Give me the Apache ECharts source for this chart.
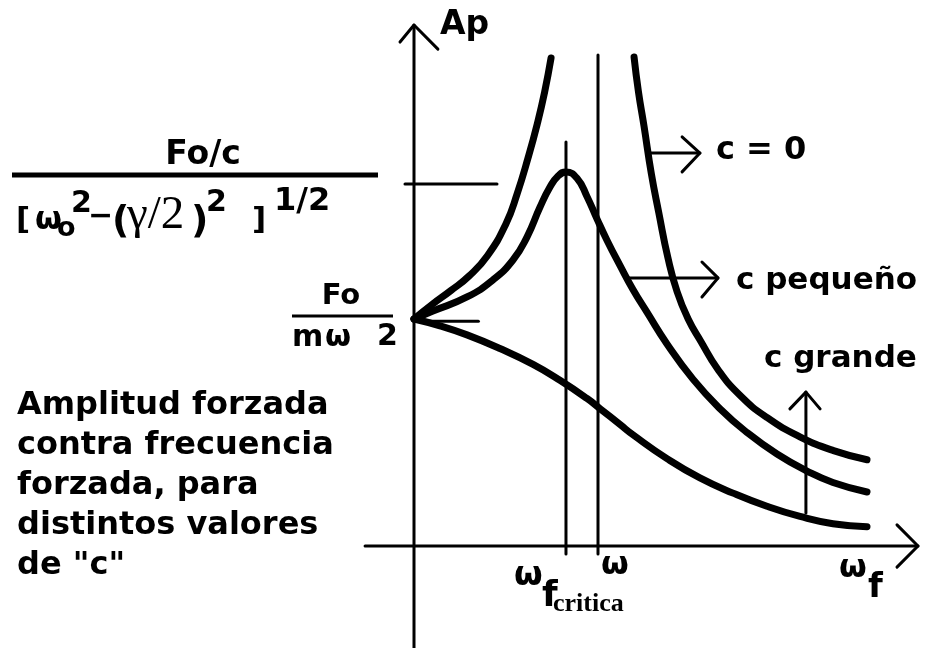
<!DOCTYPE html>
<html>
<head>
<meta charset="utf-8">
<script src="https://cdn.jsdelivr.net/npm/echarts@6/dist/echarts.min.js"></script>
<style>
  html, body { margin: 0; padding: 0; background: #fff; }
  #chart { width: 925px; height: 648px; }
</style>
</head>
<body>
<div id="chart"></div>
<script>
// Forced amplitude Ap against driving frequency ωf.
// Units: ωf in multiples of ω0, Ap in multiples of Fo/(mω²).

// c = 0: branch below resonance (rises without bound)
const undampedBelow = [
  [0, 1.0], [0.1, 1.065], [0.2, 1.125], [0.3, 1.19], [0.4, 1.28],
  [0.5, 1.42], [0.56, 1.55], [0.62, 1.71], [0.67, 1.86], [0.71, 2.0], [0.745, 2.15]
];
// c = 0: branch above resonance
const undampedAbove = [
  [1.196, 2.154], [1.22, 2.0], [1.25, 1.85], [1.29, 1.64], [1.33, 1.47],
  [1.38, 1.27], [1.43, 1.12], [1.49, 1.0], [1.56, 0.9], [1.65, 0.78],
  [1.77, 0.665], [1.92, 0.565], [2.10, 0.48], [2.28, 0.42], [2.462, 0.38]
];
// c pequeño
const lightDamping = [
  [0, 1.0], [0.103, 1.035], [0.288, 1.097], [0.429, 1.172], [0.538, 1.26],
  [0.614, 1.361], [0.685, 1.493], [0.739, 1.581], [0.783, 1.63], [0.826, 1.648],
  [0.886, 1.62], [0.94, 1.54], [0.995, 1.44], [1.05, 1.345], [1.12, 1.235],
  [1.19, 1.13], [1.266, 1.03], [1.375, 0.89], [1.516, 0.735], [1.663, 0.605],
  [1.81, 0.5], [1.973, 0.405], [2.136, 0.33], [2.277, 0.28], [2.462, 0.238]
];
// c grande
const heavyDamping = [
  [0, 1.0], [0.141, 0.97], [0.288, 0.93], [0.467, 0.87], [0.647, 0.80],
  [0.793, 0.73], [0.94, 0.65], [1.011, 0.605], [1.12, 0.535], [1.19, 0.49],
  [1.375, 0.385], [1.554, 0.30], [1.734, 0.233], [1.918, 0.175], [2.098, 0.13],
  [2.277, 0.098], [2.462, 0.085]
];

const freqCritical = 0.826;   // ωf crítica
const freqNatural = 1.0;      // ω
const peakAmplitude = 1.595;  // Fo/c / [ω0² − (γ/2)²]^1/2
const staticAmplitude = 1.0;  // Fo/(mω²)

const noteLines = ['Amplitud forzada', 'contra frecuencia', 'forzada, para', 'distintos valores', 'de "c"'];
const curveNames = ['c = 0', 'c pequeño', 'c grande'];

// ---- drawing ----
const W = 925, H = 648;
const ORIGIN_X = 414, ORIGIN_Y = 546;   // pixel position of the axes' crossing
const PX_PER_X = 184, PX_PER_Y = 227;

const BLACK = '#000';
const SANS = '"DejaVu Sans", Verdana, sans-serif';
const SERIF = '"Liberation Serif", "Times New Roman", serif';

function seg(points, width, extra) {
  return Object.assign({
    type: 'line', data: points, symbol: 'none', silent: true,
    lineStyle: { color: BLACK, width: width, cap: 'round', join: 'round' }
  }, extra || {});
}
function curve(points) {
  return seg(points, 7, { smooth: 0.5, z: 3 });
}
// open arrowhead "V": two arms meeting at the tip
function head(armA, tip, armB) { return seg([armA, tip, armB], 3); }

const yTop = 2.295, xEnd = 2.739;
const series = [
  // axes
  seg([[0, -(H - ORIGIN_Y) / PX_PER_Y], [0, yTop]], 3),
  seg([[-0.266, 0], [xEnd, 0]], 3),
  head([-0.076, 2.220], [0, yTop], [0.130, 2.189]),
  head([2.625, 0.093], [xEnd, 0], [2.625, -0.093]),
  // guide lines
  seg([[freqCritical, -0.035], [freqCritical, 1.78]], 3),
  seg([[freqNatural, -0.035], [freqNatural, 2.163]], 3),
  seg([[-0.049, peakAmplitude], [0.451, peakAmplitude]], 3),
  seg([[0, staticAmplitude - 0.01], [0.35, staticAmplitude - 0.01]], 3),
  // response curves
  curve(undampedBelow),
  curve(undampedAbove),
  curve(lightDamping),
  curve(heavyDamping),
  // pointers to the curve names
  seg([[1.266, 1.731], [1.554, 1.731]], 3),
  head([1.457, 1.802], [1.554, 1.731], [1.457, 1.648]),
  seg([[1.158, 1.181], [1.652, 1.181]], 3),
  head([1.565, 1.251], [1.652, 1.181], [1.565, 1.097]),
  seg([[2.130, 0.145], [2.130, 0.678]], 3),
  head([2.043, 0.604], [2.130, 0.678], [2.207, 0.604])
];

function T(x, y, text, font, extra) {
  return {
    type: 'text', x: x, y: y, silent: true, z: 10,
    style: Object.assign({ text: text, font: font, fill: BLACK, align: 'left', verticalAlign: 'middle' }, extra || {})
  };
}
function B(size) { return 'bold ' + size + 'px ' + SANS; }
function bar(x1, x2, y, w) {
  return { type: 'line', silent: true, shape: { x1: x1, y1: y, x2: x2, y2: y }, style: { stroke: BLACK, lineWidth: w } };
}

const graphics = [
  T(440, 25, 'Ap', B(33)),
  // Fo/c over [ω0² − (γ/2)²]^1/2
  T(203, 155, 'Fo/c', B(33), { align: 'center' }),
  bar(12, 378, 175, 5),
  T(16, 221, '[', B(31)),
  T(35, 221, 'ω', B(31)),
  T(57, 229, 'o', B(27)),
  T(71, 204, '2', B(30)),
  T(88, 217, '−', B(30)),
  T(112, 222, '(', B(38)),
  T(127, 216, 'γ/2', '47px ' + SERIF),
  T(191, 222, ')', B(38)),
  T(206, 203, '2', B(30)),
  T(252, 221, ']', B(31)),
  T(274, 202, '1/2', B(32)),
  // Fo/(mω²)
  T(341, 296, 'Fo', B(29), { align: 'center' }),
  bar(292, 393, 316, 3),
  T(292, 338, 'm', B(30)),
  T(325, 338, 'ω', B(30)),
  T(377, 337, '2', B(30)),
  // description
  T(17, 386, noteLines.join('\n'), B(32), { verticalAlign: 'top', lineHeight: 40 }),
  // curve names
  T(716, 151, curveNames[0], B(32)),
  T(736, 281, curveNames[1], B(31)),
  T(764, 359, curveNames[2], B(31)),
  // frequency labels
  T(601, 566, 'ω', B(32)),
  T(514, 576, 'ω', B(33)),
  T(542, 597, 'f', B(36)),
  T(553, 604, 'critica', 'bold 26px ' + SERIF),
  T(839, 569, 'ω', B(32)),
  T(868, 588, 'f', B(34))
];

const chart = echarts.init(document.getElementById('chart'), null, { renderer: 'canvas' });
chart.setOption({
  animation: false,
  backgroundColor: '#fff',
  grid: { left: 0, top: 0, width: W, height: H, containLabel: false },
  xAxis: { type: 'value', min: -ORIGIN_X / PX_PER_X, max: (W - ORIGIN_X) / PX_PER_X, show: false },
  yAxis: { type: 'value', min: -(H - ORIGIN_Y) / PX_PER_Y, max: ORIGIN_Y / PX_PER_Y, show: false },
  series: series,
  graphic: graphics
});
</script>
</body>
</html>
